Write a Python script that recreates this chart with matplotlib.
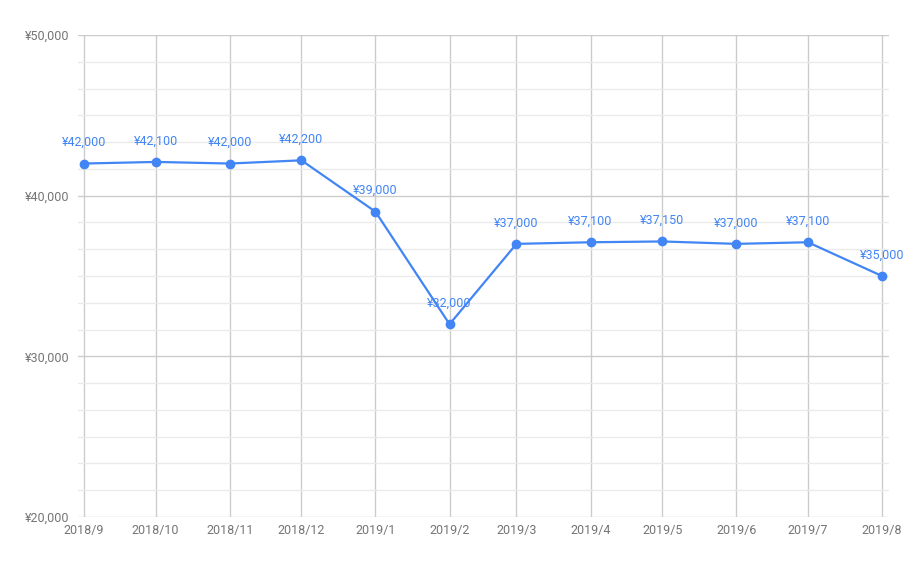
import pandas as pd
import matplotlib
matplotlib.use("Agg")
import matplotlib.pyplot as plt
import matplotlib.dates as mdates
from matplotlib.ticker import MultipleLocator, FuncFormatter

plt.rcParams['font.family'] = ['Roboto', 'DejaVu Sans']

months = ['2018/9', '2018/10', '2018/11', '2018/12', '2019/1', '2019/2',
          '2019/3', '2019/4', '2019/5', '2019/6', '2019/7', '2019/8']
prices = [42000, 42100, 42000, 42200, 39000, 32000,
          37000, 37100, 37150, 37000, 37100, 35000]
y_min, y_max = 20000, 50000

blue = '#4285f4'
grey_text = '#757575'

dates = pd.to_datetime(months, format='%Y/%m')
xs = mdates.date2num(dates)

fig = plt.figure(figsize=(9.18, 5.67), dpi=100)
ax = fig.add_axes([78 / 918, 50 / 567, (889 - 78) / 918, (517 - 35) / 567])

ppd = (882 - 84) / (xs[-1] - xs[0])
ax.set_xlim(xs[0] - 6 / ppd, xs[-1] + 7 / ppd)
ax.set_ylim(y_min, y_max)

for s in ax.spines.values():
    s.set_visible(False)

# gridlines
ax.yaxis.set_major_locator(MultipleLocator(10000))
ax.yaxis.set_minor_locator(MultipleLocator(10000 / 6))
ax.grid(True, axis='y', which='major', color='#cccccc', lw=1, zorder=0)
ax.grid(True, axis='y', which='minor', color='#ebebeb', lw=1, zorder=0)
for x in xs:
    ax.axvline(x, color='#cccccc', lw=1, zorder=0.5)

ax.yaxis.set_major_formatter(FuncFormatter(lambda v, p: '¥{:,.0f}'.format(v)))
ax.tick_params(axis='y', which='major', length=0, pad=6, labelsize=9,
               labelcolor=grey_text)
ax.tick_params(axis='y', which='minor', length=0)

ax.set_xticks(xs)
ax.set_xticklabels(months)
ax.tick_params(axis='x', length=0, pad=5, labelsize=9, labelcolor=grey_text)

ax.plot(xs, prices, color=blue, lw=1.6, marker='o', markersize=6,
        zorder=3, clip_on=False)

for x, v in zip(xs, prices):
    ax.annotate('¥{:,}'.format(v), (x, v), xytext=(0, 10.5),
                textcoords='offset points', ha='center', va='bottom',
                fontsize=9, color=blue, zorder=4)

fig.savefig('out.png', dpi=100)
